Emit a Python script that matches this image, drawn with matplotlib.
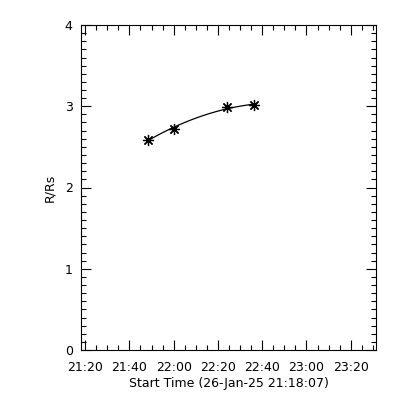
import numpy as np
import matplotlib
matplotlib.use("Agg")
import matplotlib.pyplot as plt
import matplotlib.dates as mdates
from datetime import datetime, timedelta

t0 = datetime(2025, 1, 26, 21, 18, 7)
t_end = datetime(2025, 1, 26, 23, 31, 25)

# observation times (minutes after 21:00) and heights
t_min = [48.5, 60.0, 84.3, 96.2]
r_rs = [2.59, 2.72, 2.99, 3.015]

times = [datetime(2025, 1, 26, 21, 0) + timedelta(minutes=m) for m in t_min]

# quadratic fit through the points
coef = np.polyfit(t_min, r_rs, 2)
tf = np.linspace(t_min[0], t_min[-1], 100)
rf = np.polyval(coef, tf)
tf_dates = [datetime(2025, 1, 26, 21, 0) + timedelta(minutes=float(m)) for m in tf]

fig = plt.figure(figsize=(4, 4), dpi=100)
ax = fig.add_axes([0.2025, 0.125, 0.7375, 0.8125])

ax.plot(tf_dates, rf, color="black", linewidth=0.9)
ax.plot(times, r_rs, linestyle="none", marker=(8, 2, 0), markersize=8,
        markeredgewidth=0.9, color="black")

ax.set_xlim(t0, t_end)
ax.set_ylim(0, 4)

ax.xaxis.set_major_locator(mdates.MinuteLocator(byminute=[0, 20, 40]))
ax.xaxis.set_minor_locator(mdates.MinuteLocator(byminute=range(0, 60, 5)))
ax.xaxis.set_major_formatter(mdates.DateFormatter("%H:%M"))
ax.set_yticks([0, 1, 2, 3, 4])
ax.set_yticks(np.arange(0, 4.01, 0.1), minor=True)

ax.tick_params(which="both", direction="in", top=True, right=True,
               labelsize=9, width=0.8, colors="black")
ax.tick_params(which="major", length=7)
ax.tick_params(which="minor", length=3.5)
ax.tick_params(axis="x", pad=8)
ax.tick_params(axis="y", pad=6)
for s in ax.spines.values():
    s.set_linewidth(0.8)

ax.set_xlabel("Start Time (26-Jan-25 21:18:07)", fontsize=9, labelpad=2)
ax.set_ylabel("R/Rs", fontsize=9, labelpad=6)

fig.savefig("out.png", dpi=100)
